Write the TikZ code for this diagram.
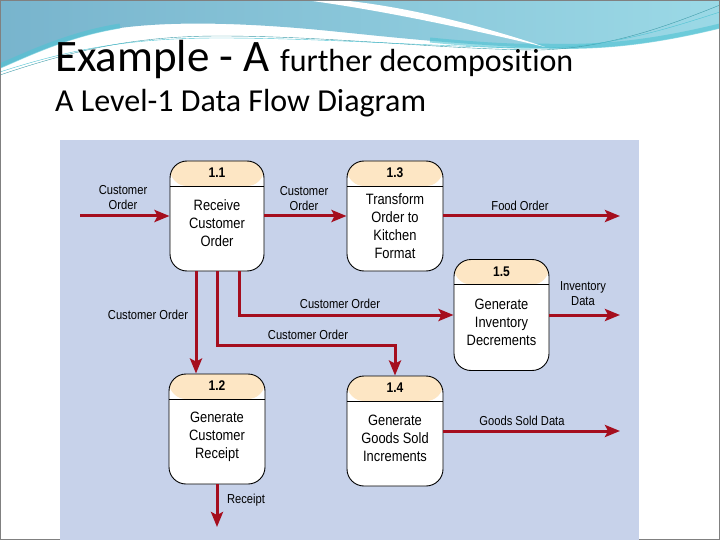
\documentclass[tikz,border=0pt]{standalone}
\usepackage{fontspec}
\setmainfont[Ligatures=NoCommon]{Carlito}
\newfontfamily\dfdfont[FakeStretch=0.86]{Liberation Sans}
\usetikzlibrary{arrows.meta,calc}

\definecolor{panelblue}{HTML}{C7D2EA}
\definecolor{flowred}{HTML}{A50E1E}
\definecolor{headpeach}{HTML}{FDE6C4}
\definecolor{wavedark}{HTML}{78B4CD}
\definecolor{wavelight}{HTML}{9BD9E6}
\definecolor{waveteal}{HTML}{4FC3D3}

\tikzset{
  proc/.style={draw=black, fill=white, line width=0.9pt, rounded corners=17pt,
    minimum width=95pt, minimum height=110pt, inner sep=0pt,
    path picture={
      \fill[headpeach] (path picture bounding box.north west) rectangle ([yshift=-25pt]path picture bounding box.north east);
      \draw[line width=0.9pt] ([yshift=-25pt]path picture bounding box.north west) -- ([yshift=-25pt]path picture bounding box.north east);}},
  procnum/.style={font=\dfdfont\fontsize{14}{16}\selectfont\bfseries, inner sep=0pt},
  proctxt/.style={font=\dfdfont\fontsize{15}{18}\selectfont, align=center, inner sep=0pt},
  flow/.style={draw=flowred, line width=3pt, -{Stealth[length=15pt,width=12pt,inset=3pt]}},
  flowlbl/.style={font=\dfdfont\fontsize{13}{15}\selectfont, align=center, inner sep=0pt},
}

\begin{document}
\begin{tikzpicture}[x=1pt,y=-1pt]
  \useasboundingbox (0,0) rectangle (720,540);
  % top waves
  \shade[left color=wavedark, right color=wavelight] (0,0) -- (720,0) -- (720,28)
    .. controls (650,45) and (600,50) .. (540,48)
    .. controls (450,44) and (380,36) .. (330,31)
    .. controls (260,24) and (180,20) .. (120,28)
    .. controls (70,36) and (30,55) .. (0,68) -- cycle;
  \draw[waveteal, line width=5pt, opacity=.6] (0,66) .. controls (30,53) and (70,34) .. (120,26);
  \draw[waveteal, line width=5pt, opacity=.6] (430,40) .. controls (480,45) and (520,47) .. (540,46)
    .. controls (600,48) and (650,43) .. (720,26);
  \fill[white] (305,0) .. controls (380,10) and (460,27) .. (545,47)
    .. controls (470,22) and (400,6) .. (340,0) -- cycle;
  \draw[waveteal!80!black, thin] (0,75) .. controls (80,48) and (140,36) .. (220,36)
    .. controls (330,36) and (450,50) .. (540,50) .. controls (610,48) and (670,25) .. (720,5);
  \draw[waveteal, thin] (0,72) .. controls (80,46) and (140,38) .. (220,38)
    .. controls (330,38) and (450,48) .. (545,48) .. controls (615,46) and (670,28) .. (720,12);
  % slide frame
  \draw[gray, line width=1pt] (0.5,0.5) rectangle (719.5,539.5);

  % titles
  \node[anchor=base west, inner sep=0pt] (title) at (55,72)
    {\fontsize{45}{50}\selectfont Example - A \fontsize{32}{36}\selectfont further decomposition};
  \node[anchor=base west, inner sep=0pt] (subtitle) at (55,112)
    {\fontsize{32}{36}\selectfont A Level-1 Data Flow Diagram};

  % panel
  \fill[panelblue] (60,140) rectangle (639,540);

  % processes
  \node[proc, minimum width=94pt] (p11) at (217,216) {};
  \node[procnum] (p11n) at ([yshift=-12.5pt]p11.north) {1.1};
  \node[proctxt] (p11t) at ([yshift=-7.5pt]p11.center) {Receive\\Customer\\Order};

  \node[proc, minimum width=96pt] (p13) at (395,216) {};
  \node[procnum] (p13n) at ([yshift=-12.5pt]p13.north) {1.3};
  \node[proctxt] (p13t) at ([yshift=-10.5pt]p13.center) {Transform\\Order to\\Kitchen\\Format};

  \node[proc, minimum height=111pt] (p15) at (501.5,315) {};
  \node[procnum] (p15n) at ([yshift=-12.5pt]p15.north) {1.5};
  \node[proctxt] (p15t) at ([yshift=-7.5pt]p15.center) {Generate\\Inventory\\Decrements};

  \node[proc, minimum width=96pt] (p12) at (217,429) {};
  \node[procnum] (p12n) at ([yshift=-12.5pt]p12.north) {1.2};
  \node[proctxt] (p12t) at ([yshift=-7.5pt]p12.center) {Generate\\Customer\\Receipt};

  \node[proc, minimum width=96pt] (p14) at (395,431) {};
  \node[procnum] (p14n) at ([yshift=-12.5pt]p14.north) {1.4};
  \node[proctxt] (p14t) at ([yshift=-7.5pt]p14.center) {Generate\\Goods Sold\\Increments};

  % free ends and bends
  \coordinate (in11) at (80,216);
  \coordinate (food) at (620,216);
  \coordinate (inv) at (620,315);
  \coordinate (goods) at (620,431);
  \coordinate (rcpt) at (217,527);
  \coordinate (b14) at (395,345);

  % flows
  \draw[flow] (in11) -- (p11.west);
  \draw[flow] (p11.east) -- (p13.west);
  \draw[flow] (p13.east) -- (food);
  \draw[flow] (p15.east) -- (inv);
  \draw[flow] (p14.east) -- (goods);
  \draw[flow] (p12.south) -- (rcpt);
  \draw[flow] ([xshift=-21pt]p11.south) -- ([xshift=-21pt]p12.north);
  \draw[flow] ([xshift=22pt]p11.south) |- (p15.west);
  \draw[flow] (p11.south) |- (b14) -- (p14.north);

  % flow labels
  \node[flowlbl] (l1) at (123,198) {Customer\\Order};
  \node[flowlbl] (l2) at (304,199) {Customer\\Order};
  \node[flowlbl] (l3) at (520,206) {Food Order};
  \node[flowlbl] (l4) at (583,294) {Inventory\\Data};
  \node[flowlbl] (l5) at (340,304) {Customer Order};
  \node[flowlbl] (l6) at (148,315) {Customer Order};
  \node[flowlbl] (l7) at (308,335) {Customer Order};
  \node[flowlbl] (l8) at (522,421) {Goods Sold Data};
  \node[flowlbl] (l9) at (246,500) {Receipt};
\end{tikzpicture}
\end{document}
